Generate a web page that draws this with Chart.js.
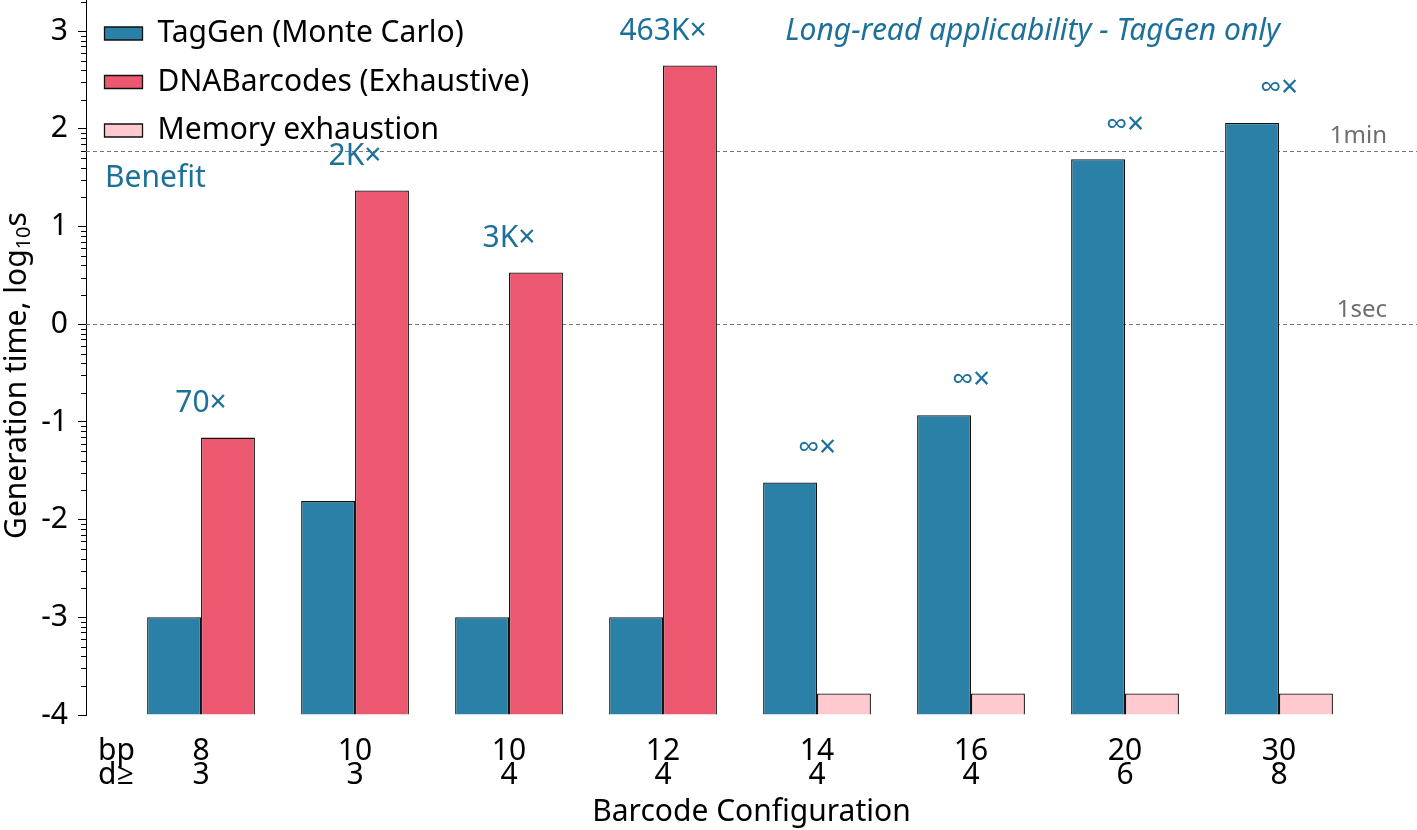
<!DOCTYPE html>
<html>
<head>
<meta charset="utf-8">
<script src="https://cdn.jsdelivr.net/npm/chart.js@4"></script>
<style>
  html, body { margin: 0; padding: 0; background: #fff; }
  #wrap { width: 1417px; height: 830px; }
</style>
</head>
<body>
<div id="wrap"><canvas id="timeChart"></canvas></div>
<script>
// Barcode configurations (length, min distance)
const bpValues = [8, 10, 10, 12, 14, 16, 20, 30];
const dValues = [3, 3, 4, 4, 4, 4, 6, 8];

// Generation time, log10 seconds
const tagGenTimes = [-3.0, -1.81, -3.0, -3.0, -1.62, -0.93, 1.69, 2.06];
const dnaBarcodeTimes = [-1.16, 1.37, 0.53, 2.65, null, null, null, null];
const memoryExhausted = [null, null, null, null, -3.78, -3.78, -3.78, -3.78];

// Speedup labels above each group
const speedups = ['70×', '2K×', '3K×', '463K×', '∞×', '∞×', '∞×', '∞×'];

// Reference lines (log10 s)
const refLines = [
    { value: Math.log10(60), label: '1min' },
    { value: 0, label: '1sec' }
];

const yTicks = [-4, -3, -2, -1, 0, 1, 2, 3];

const BLUE = '#2a80a6';
const RED = '#ec5870';
const PINK = '#ffcacf';
const TEAL = '#1d7099';
const FONT = "'Noto Sans', 'Open Sans', sans-serif";
const TICK_FONT = { family: FONT, size: 30, lineHeight: 0.78 };

function toPoints(values) {
    return values.map((v, i) => ({ x: i, y: v }));
}

// Reference lines, minor ticks and text annotations
const annotationPlugin = {
    id: 'annotations',
    beforeDatasetsDraw(chart) {
        const { ctx, chartArea, scales: { y } } = chart;
        ctx.save();
        ctx.strokeStyle = '#777';
        ctx.lineWidth = 1;
        ctx.setLineDash([4, 3]);
        refLines.forEach(line => {
            const py = Math.round(y.getPixelForValue(line.value)) + 0.5;
            ctx.beginPath();
            ctx.moveTo(chartArea.left, py);
            ctx.lineTo(chartArea.right, py);
            ctx.stroke();
        });
        ctx.restore();
    },
    afterDatasetsDraw(chart) {
        const { ctx, chartArea, scales: { x, y } } = chart;
        ctx.save();

        // minor log ticks on y axis
        ctx.strokeStyle = '#000';
        ctx.lineWidth = 1;
        for (let n = -4; n < 4; n++) {
            for (let k = 2; k <= 9; k++) {
                const v = n + Math.log10(k);
                if (v > y.max) continue;
                const py = Math.round(y.getPixelForValue(v)) + 0.5;
                ctx.beginPath();
                ctx.moveTo(chartArea.left - 5, py);
                ctx.lineTo(chartArea.left, py);
                ctx.stroke();
            }
        }

        // reference line labels
        ctx.fillStyle = '#6f6f6f';
        ctx.font = `24px ${FONT}`;
        ctx.textAlign = 'right';
        ctx.textBaseline = 'bottom';
        refLines.forEach(line => {
            ctx.fillText(line.label, chartArea.right - 30, y.getPixelForValue(line.value) - 2);
        });

        // speedup labels
        ctx.fillStyle = TEAL;
        ctx.textAlign = 'center';
        ctx.textBaseline = 'middle';
        ctx.font = `30px ${FONT}`;
        speedups.forEach((label, i) => {
            const top = Math.max(tagGenTimes[i], dnaBarcodeTimes[i] ?? -4);
            ctx.fillText(label, x.getPixelForValue(i), y.getPixelForValue(top + 0.35));
        });

        ctx.textAlign = 'left';
        ctx.fillText('Benefit', chartArea.left + 19, y.getPixelForValue(1.49));

        ctx.font = `italic 30px ${FONT}`;
        ctx.textAlign = 'center';
        ctx.fillText('Long-read applicability - TagGen only', x.getPixelForValue(5.4), y.getPixelForValue(3.0));

        // row names for the two-line tick labels, aligned with the first tick label
        const item = x.getLabelItems()[0];
        const lineH = TICK_FONT.size * TICK_FONT.lineHeight;
        const ty = item.options.translation[1] + item.textOffset;
        ctx.fillStyle = '#000';
        ctx.font = `${TICK_FONT.size}px ${FONT}`;
        ctx.textAlign = 'left';
        ctx.textBaseline = item.options.textBaseline;
        ctx.fillText('bp', chartArea.left + 12, ty);
        ctx.fillText('d≥', chartArea.left + 12, ty + lineH);

        // y axis title with a real subscript
        ctx.translate(17, (chartArea.top + chartArea.bottom) / 2 + 18);
        ctx.rotate(-Math.PI / 2);
        ctx.textBaseline = 'middle';
        const main = 'Generation time, log';
        ctx.font = `30px ${FONT}`;
        const wMain = ctx.measureText(main).width;
        const wS = ctx.measureText('s').width;
        ctx.font = `20px ${FONT}`;
        const wSub = ctx.measureText('10').width;
        let tx = -(wMain + wSub + wS) / 2;
        ctx.font = `30px ${FONT}`;
        ctx.fillText(main, tx, 0);
        tx += wMain;
        ctx.font = `20px ${FONT}`;
        ctx.fillText('10', tx, 7);
        tx += wSub;
        ctx.font = `30px ${FONT}`;
        ctx.fillText('s', tx, 0);

        ctx.restore();
    }
};

document.addEventListener('DOMContentLoaded', () => {
    const ctx = document.getElementById('timeChart').getContext('2d');
    new Chart(ctx, {
        type: 'bar',
        data: {
            datasets: [{
                label: 'TagGen (Monte Carlo)',
                data: toPoints(tagGenTimes),
                backgroundColor: BLUE,
                stack: 'tag'
            }, {
                label: 'DNABarcodes (Exhaustive)',
                data: toPoints(dnaBarcodeTimes),
                backgroundColor: RED,
                stack: 'other'
            }, {
                label: 'Memory exhaustion',
                data: toPoints(memoryExhausted),
                backgroundColor: PINK,
                stack: 'other'
            }]
        },
        options: {
            responsive: true,
            maintainAspectRatio: false,
            animation: false,
            layout: { padding: 0 },
            datasets: {
                bar: {
                    base: -4,
                    borderColor: '#111',
                    borderWidth: 1.3,
                    categoryPercentage: 0.7,
                    barPercentage: 1.0
                }
            },
            plugins: {
                legend: {
                    position: 'chartArea',
                    align: 'start',
                    labels: {
                        boxWidth: 38,
                        boxHeight: 13,
                        padding: 18.5,
                        color: '#000',
                        font: { family: FONT, size: 30 }
                    }
                },
                tooltip: { enabled: false }
            },
            scales: {
                x: {
                    type: 'linear',
                    offset: false,
                    min: -0.747,
                    max: 7.896,
                    grid: { display: false },
                    border: { display: false },
                    afterBuildTicks: scale => {
                        scale.ticks = bpValues.map((_, i) => ({ value: i }));
                    },
                    ticks: {
                        autoSkip: false,
                        maxRotation: 0,
                        padding: 17,
                        color: '#000',
                        font: TICK_FONT,
                        callback: value => [String(bpValues[value]), String(dValues[value])]
                    },
                    title: {
                        display: true,
                        text: 'Barcode Configuration',
                        color: '#000',
                        font: { family: FONT, size: 30 },
                        padding: { top: 0, bottom: 0 }
                    },
                    afterFit: scale => {
                        scale.height = 115;
                        scale.paddingLeft = 0;
                        scale.paddingRight = 0;
                    }
                },
                y: {
                    stacked: false,
                    min: -4,
                    max: 3.32,
                    grid: {
                        drawOnChartArea: false,
                        drawTicks: true,
                        tickLength: 8,
                        color: '#000'
                    },
                    border: { display: true, color: '#000', width: 1 },
                    afterBuildTicks: scale => {
                        scale.ticks = yTicks.map(v => ({ value: v }));
                    },
                    ticks: {
                        padding: 10,
                        color: '#000',
                        font: { family: FONT, size: 30 }
                    },
                    afterFit: scale => {
                        scale.width = 86;
                        scale.paddingTop = 0;
                        scale.paddingBottom = 0;
                    }
                }
            }
        },
        plugins: [annotationPlugin]
    });
});
</script>
</body>
</html>
